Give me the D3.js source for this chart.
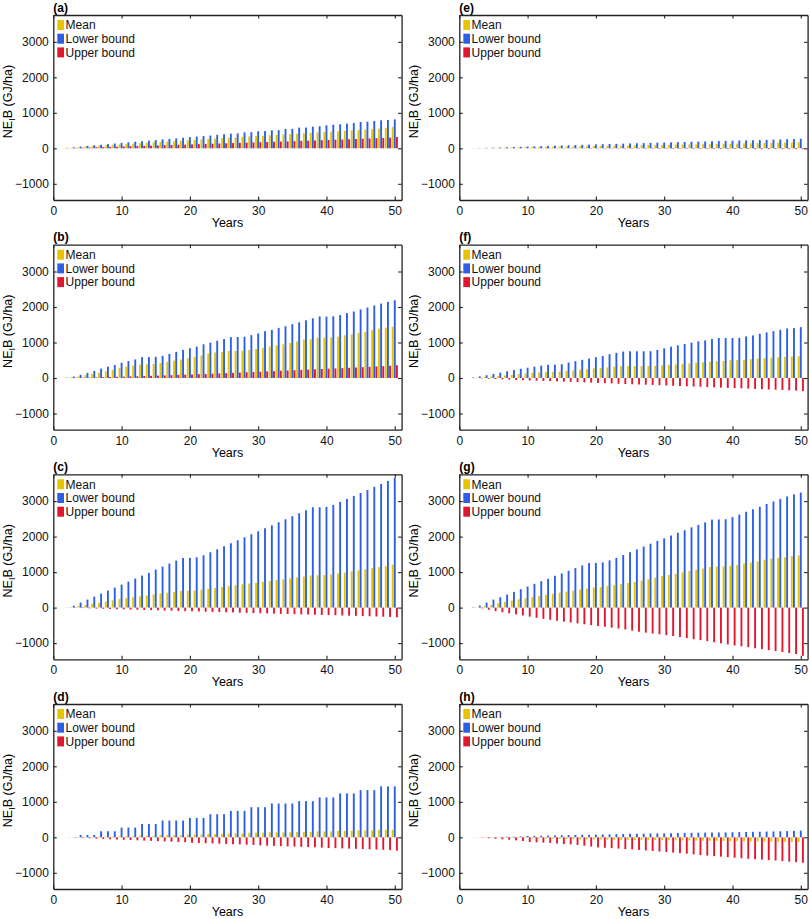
<!DOCTYPE html>
<html>
<head>
<meta charset="utf-8">
<script src="https://cdn.jsdelivr.net/npm/d3@7"></script>
<style>
  body { margin: 0; background: #fff; }
  svg { display: block; font-family: "Liberation Sans", Arial, sans-serif; }
</style>
</head>
<body>
<svg id="chart"></svg>
<script>
// years on the x axis
const years = [1,2,3,4,5,6,7,8,9,10,11,12,13,14,15,16,17,18,19,20,21,22,23,24,25,
  26,27,28,29,30,31,32,33,34,35,36,37,38,39,40,41,42,43,44,45,46,47,48,49,50];
const seriesNames = ["Mean", "Lower bound", "Upper bound"];
const xTicks = [0, 10, 20, 30, 40, 50];
const yTicks = [-1000, 0, 1000, 2000, 3000];
const panelLabels = ["(a)", "(b)", "(c)", "(d)", "(e)", "(f)", "(g)", "(h)"];

// (a)
const aMean = [0,8,20,32,45,58,70,82,95,108,120,130,145,155,168,180,192,200,215,228,240,250,262,275,290,298,310,322,335,345,352,368,378,390,400,412,420,435,448,460,470,478,492,505,515,528,540,555,575,605];
const aLower = [0,12,30,50,68,85,100,118,135,152,168,185,200,215,232,250,265,280,298,315,330,345,360,380,395,413,420,450,455,480,485,507,512,545,548,582,585,610,620,648,667,676,695,714,742,751,770,789,798,815];
const aUpper = [0,4,10,16,22,28,34,40,46,52,58,64,70,75,82,88,95,100,106,112,118,124,130,136,142,148,155,160,166,172,178,185,190,196,202,208,215,220,228,235,242,248,255,262,270,278,285,292,300,320];
// (b)
const bMean = [0,5,20,45,75,110,150,190,235,280,320,350,380,385,395,420,455,490,520,555,595,630,690,720,735,760,762,765,792,820,850,890,920,950,985,1030,1085,1095,1130,1140,1145,1165,1205,1230,1265,1300,1345,1390,1420,1445];
const bLower = [0,10,40,90,145,200,264,319,366,431,477,523,588,590,597,625,681,736,792,838,884,949,995,1051,1097,1153,1155,1162,1208,1255,1319,1356,1412,1458,1514,1569,1625,1681,1736,1730,1740,1773,1829,1875,1931,1986,2042,2097,2144,2190];
const bUpper = [0,2,5,9,13,18,23,28,33,38,44,50,56,62,68,74,80,87,94,100,108,115,122,130,138,146,154,162,170,178,186,194,203,212,220,228,236,245,254,262,270,279,288,297,306,315,324,334,344,360];
// (c)
const cMean = [0,3,15,45,75,110,140,170,205,240,265,290,320,345,370,395,420,445,470,475,480,505,530,555,580,605,630,655,680,700,725,750,775,800,825,850,875,905,910,915,935,960,990,1020,1050,1080,1110,1140,1170,1210];
const cLower = [0,5,56,141,225,310,394,479,563,648,732,817,901,977,1070,1155,1239,1324,1399,1402,1418,1474,1559,1643,1728,1812,1897,1981,2066,2150,2235,2319,2404,2488,2573,2657,2742,2826,2826,2836,2892,2977,3061,3146,3230,3315,3399,3484,3568,3653];
const cUpper = [0,-3,-8,-14,-20,-26,-32,-38,-44,-50,-55,-60,-66,-72,-78,-83,-88,-94,-100,-104,-108,-114,-120,-125,-130,-136,-142,-148,-153,-158,-164,-170,-175,-180,-185,-190,-196,-202,-206,-210,-215,-220,-226,-232,-238,-244,-250,-256,-262,-275];
// (d)
const dMean = [0,0,2,10,10,10,20,20,20,30,30,30,45,45,45,60,60,60,60,80,80,80,95,95,95,110,110,110,130,130,130,140,140,140,140,150,150,150,165,165,165,180,180,180,195,195,195,215,215,215];
const dLower = [0,0,5,66,66,66,170,170,170,274,274,274,377,377,377,472,472,472,472,547,547,547,651,651,651,745,745,745,849,849,849,953,953,953,953,1019,1019,1019,1123,1123,1123,1236,1236,1236,1330,1330,1330,1434,1434,1434];
const dUpper = [0,-5,-12,-20,-28,-38,-45,-55,-62,-70,-78,-85,-92,-100,-108,-115,-122,-130,-138,-155,-160,-165,-172,-180,-186,-195,-200,-208,-215,-228,-235,-240,-248,-255,-260,-268,-275,-282,-290,-300,-305,-312,-318,-325,-332,-338,-345,-352,-360,-375];
// (e)
const eMean = [0,2,5,9,13,17,21,25,29,33,36,39,42,45,48,51,54,57,60,64,67,70,73,76,79,82,85,88,91,95,98,102,105,109,112,116,119,123,126,130,133,137,141,145,149,153,157,161,164,167];
const eLower = [0,3,8,13,18,24,30,36,42,50,56,62,68,74,80,86,92,98,104,110,115,120,126,132,138,143,148,153,158,163,168,173,178,184,189,194,199,204,208,212,218,224,228,233,238,244,250,255,260,268];
const eUpper = [0,0,-1,-1,-2,-2,-3,-3,-4,-4,-5,-5,-6,-6,-7,-7,-8,-8,-9,-9,-10,-10,-11,-11,-12,-12,-13,-13,-14,-14,-15,-15,-16,-16,-17,-17,-18,-18,-19,-19,-20,-20,-21,-21,-22,-22,-23,-23,-24,-24];
// (f)
const fMean = [0,5,15,30,45,60,75,90,110,130,145,160,170,175,180,200,215,235,250,270,285,300,315,330,335,335,337,340,345,353,370,385,400,415,430,445,460,475,480,500,505,515,530,545,560,575,585,595,605,614];
const fLower = [0,15,45,80,115,150,190,225,260,290,320,350,372,378,390,437,474,512,549,586,623,670,707,744,753,753,753,755,791,837,884,921,958,995,1033,1060,1098,1126,1126,1128,1130,1172,1200,1247,1284,1321,1358,1395,1405,1433];
const fUpper = [0,-5,-12,-20,-28,-36,-44,-52,-60,-68,-76,-82,-88,-95,-100,-108,-115,-122,-130,-137,-145,-152,-160,-168,-176,-182,-188,-195,-202,-210,-218,-225,-232,-240,-248,-255,-262,-270,-278,-285,-292,-300,-308,-315,-322,-330,-338,-345,-355,-370];
// (g)
const gMean = [0,2,10,40,80,120,160,200,235,264,295,330,360,390,420,450,480,510,540,566,575,604,630,660,689,720,760,800,845,887,920,950,990,1030,1066,1100,1140,1150,1160,1179,1200,1240,1270,1300,1349,1380,1400,1420,1450,1470];
const gLower = [0,10,57,141,226,292,368,443,519,594,670,745,811,896,962,1038,1113,1189,1255,1258,1274,1330,1400,1480,1560,1640,1720,1800,1880,1950,2030,2110,2180,2260,2330,2400,2480,2482,2490,2550,2620,2700,2770,2840,2920,2990,3060,3130,3190,3240];
const gUpper = [0,-5,-20,-60,-100,-130,-160,-190,-220,-255,-285,-315,-345,-370,-396,-420,-445,-470,-495,-519,-540,-565,-590,-615,-650,-680,-705,-730,-750,-774,-800,-830,-860,-890,-915,-945,-975,-1005,-1035,-1066,-1090,-1115,-1145,-1170,-1198,-1225,-1250,-1280,-1310,-1358];
// (h)
const hMean = [0,-2,-4,-6,-8,-10,-12,-15,-20,-25,-28,-32,-36,-40,-44,-48,-52,-55,-58,-60,-62,-65,-68,-70,-72,-74,-76,-78,-79,-80,-82,-85,-88,-90,-92,-95,-98,-100,-105,-110,-112,-115,-117,-120,-122,-124,-126,-128,-130,-132];
const hLower = [0,1,2,4,6,10,14,18,25,38,40,45,50,55,60,65,68,70,72,75,80,85,90,95,100,100,104,108,110,113,116,120,124,128,130,132,134,136,138,142,146,150,154,158,162,166,170,176,182,189];
const hUpper = [0,-3,-10,-25,-40,-55,-70,-85,-105,-132,-140,-150,-160,-175,-189,-200,-215,-235,-260,-283,-295,-305,-318,-330,-340,-355,-370,-385,-400,-415,-430,-445,-460,-480,-500,-515,-530,-545,-560,-575,-590,-605,-615,-630,-642,-655,-670,-685,-700,-717];

const panelData = [
  [aMean, aLower, aUpper], [bMean, bLower, bUpper], [cMean, cLower, cUpper], [dMean, dLower, dUpper],
  [eMean, eLower, eUpper], [fMean, fLower, fUpper], [gMean, gLower, gUpper], [hMean, hLower, hUpper]
];

const colors = ["#e6c500", "#2c5fe6", "#e3162f"];
const W = 810, H = 919;
const colLeft = [53.3, 459.3];
const rowTop = [15, 244.7, 474.3, 704];
const pw = 348.3, ph = 185;
const fs = 12;

const svg = d3.select("#chart").attr("width", W).attr("height", H);

panelData.forEach((series, p) => {
  const col = Math.floor(p / 4), row = p % 4;
  const g = svg.append("g")
    .attr("transform", `translate(${colLeft[col]},${rowTop[row]})`);

  const x = d3.scaleLinear().domain([0, 51]).range([0, pw]);
  const y = d3.scaleLinear().domain([-1456, 3755]).range([ph, 0]);
  const inner = d3.scaleBand().domain(seriesNames).range([-0.45, 0.45]).paddingInner(0.12);

  // bars
  seriesNames.forEach((name, s) => {
    g.append("g")
      .selectAll("rect")
      .data(series[s])
      .enter()
      .append("rect")
      .attr("x", (d, i) => x(years[i] + inner(name)))
      .attr("width", x(inner.bandwidth()) - x(0))
      .attr("y", d => y(Math.max(0, d)))
      .attr("height", d => Math.abs(y(d) - y(0)))
      .attr("fill", colors[s]);
  });

  // axes: ticks inside on all four sides
  const tickLen = 3.5;
  g.append("g").attr("transform", `translate(0,${ph})`)
    .call(d3.axisBottom(x).tickValues(xTicks).tickSizeInner(-tickLen).tickSizeOuter(0).tickPadding(6.5).tickFormat(d3.format("d")));
  g.append("g")
    .call(d3.axisTop(x).tickValues(xTicks).tickSizeInner(-tickLen).tickSizeOuter(0).tickFormat(""));
  g.append("g")
    .call(d3.axisLeft(y).tickValues(yTicks).tickSizeInner(-tickLen).tickSizeOuter(0).tickPadding(4.5).tickFormat(d3.format("d")));
  g.append("g").attr("transform", `translate(${pw},0)`)
    .call(d3.axisRight(y).tickValues(yTicks).tickSizeInner(-tickLen).tickSizeOuter(0).tickFormat(""));

  g.selectAll(".domain").attr("stroke", "#222").attr("stroke-width", 1.3);
  g.selectAll(".tick line").attr("stroke", "#222").attr("stroke-width", 1.1);
  g.selectAll(".tick text").attr("font-size", fs).attr("fill", "#111")
    .attr("font-family", "'Liberation Sans', Arial, sans-serif");

  // panel label
  g.append("text")
    .attr("x", 0).attr("y", -3.5)
    .attr("font-size", fs).attr("font-weight", "bold")
    .text(panelLabels[p]);

  // x label
  g.append("text")
    .attr("x", pw / 2).attr("y", ph + 27)
    .attr("text-anchor", "middle").attr("font-size", 12.5)
    .text("Years");

  // y label
  const yl = g.append("text")
    .attr("transform", `translate(${-41.3},${ph / 2 - 6}) rotate(-90)`)
    .attr("text-anchor", "middle").attr("font-size", 12.5);
  yl.append("tspan").text("NE");
  yl.append("tspan").attr("font-size", 9).attr("dy", 3).text("I");
  yl.append("tspan").attr("dy", -3).text("B (GJ/ha)");

  // legend
  const leg = g.append("g").attr("transform", "translate(4,5)");
  seriesNames.forEach((name, s) => {
    leg.append("rect")
      .attr("x", 0).attr("y", s * 13.7)
      .attr("width", 6.7).attr("height", 10)
      .attr("fill", colors[s]);
    leg.append("text")
      .attr("x", 8.3).attr("y", s * 13.7 + 9.3)
      .attr("font-size", fs).attr("fill", "#111")
      .text(name);
  });
});
</script>
</body>
</html>
